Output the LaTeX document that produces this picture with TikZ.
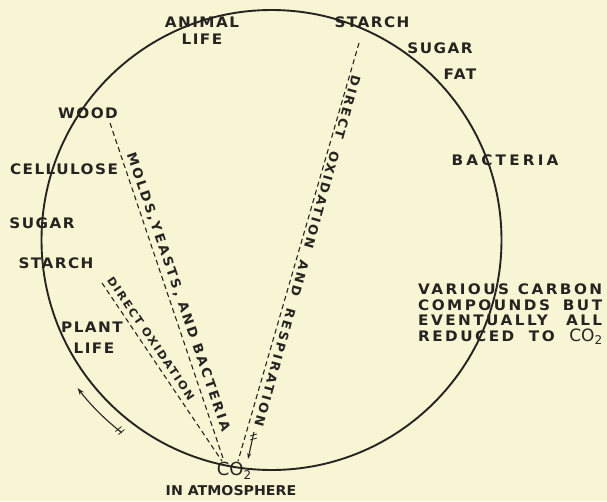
\documentclass[tikz,border=0pt]{standalone}
\usepackage{fontspec}
\setmainfont{DejaVu Sans}
\usetikzlibrary{arrows.meta}
\definecolor{bg}{RGB}{248,245,212}
\definecolor{ink}{RGB}{38,36,32}
\newcommand{\lbl}[2]{\fontsize{#1}{#1}\selectfont\bfseries\addfontfeatures{LetterSpace=#2,FakeStretch=1.05}}
\begin{document}
\begin{tikzpicture}[x=1pt,y=-1pt,
  lab/.style={font=\lbl{14.5}{10},text=ink,inner sep=0pt},
  along/.style={text=ink,inner sep=0pt},
  road/.style={draw=ink,line width=1.1pt,dash pattern=on 5pt off 3.5pt},
  ring/.style={draw=ink,line width=1.9pt},
  flow/.style={draw=ink,line width=1.1pt,-{Stealth[length=7pt,width=5pt]}},
  feather/.style={draw=ink,line width=0.8pt}]
\useasboundingbox (0,0) rectangle (607,501);
\fill[bg] (0,0) rectangle (607,501);
\coordinate (ctr) at (271.5,240);
\draw[ring] (ctr) circle (230);
% labels round the circle
\node[lab,align=center] (animal) at (202,31) {ANIMAL\\[2.5pt]LIFE};
\node[lab] (starchT) at (372,22) {STARCH};
\node[lab] (sugarT) at (440,48) {SUGAR};
\node[lab] (fat) at (460,74) {FAT};
\node[lab,font=\lbl{14.5}{22}] (bact) at (505,160) {BACTERIA};
\node[lab] (wood) at (88,113) {WOOD};
\node[lab] (cell) at (64,169) {CELLULOSE};
\node[lab] (sugarL) at (42,223) {SUGAR};
\node[lab] (starchL) at (56,263) {STARCH};
\node[lab,align=center] (plant) at (92,337.5) {PLANT\\[6.5pt]\hspace*{4pt}LIFE};
\node[lab,font=\lbl{13.5}{0}] (atm) at (231,491) {IN ATMOSPHERE};
\node[lab,font=\lbl{14.5}{17},anchor=north west,align=left] (various) at (418,283.7)
  {\makebox[184pt][s]{VARIOUS CARBON}\\[1pt]
   \makebox[184pt][s]{COMPOUNDS BUT}\\[1pt]
   \makebox[184pt][s]{EVENTUALLY ALL}\\[1.5pt]
   \makebox[184pt][s]{REDUCED TO {\normalfont\fontsize{17}{17}\selectfont CO\raisebox{-3pt}{\fontsize{12}{12}\selectfont 2}}}};
% CO2
\node[text=ink,inner sep=1pt,font=\normalfont\fontsize{18}{18}\selectfont] (co2) at (234,471)
  {CO\raisebox{-4pt}{\fontsize{12}{12}\selectfont 2}};
% dashed paths
\coordinate (a1) at (110,123);
\coordinate (b1) at (102,283);
\coordinate (c1) at (359,43);
\draw[road] (a1) -- ([xshift=-10pt]co2.north);
\draw[road] (b1) -- ([xshift=-12pt]co2.north);
\draw[road] (c1) -- ([xshift=4pt]co2.north);
\node[along,rotate=-71,font=\lbl{13}{17}] (molds) at (178,292) {MOLDS,YEASTS, AND BACTERIA};
\node[along,rotate=-55.9,font=\lbl{11}{15}] (dirox) at (151,338.5) {DIRECT OXIDATION};
\node[along,rotate=-105.6,font=\lbl{12.5}{19}] (dirresp) at (307.5,251)
  {DIRECT\hspace{6pt} OXIDATION\hspace{6pt} AND\hspace{6pt} RESPIRATION};
% small arrow to CO2
\coordinate (f1) at (254,432);
\coordinate (f2) at (248,459);
\draw[flow,-{Stealth[length=6pt,width=4pt]}] (f1) -- (f2);
\draw[feather] (250,436) -- (257,434) (250,440) -- (257,438);
% direction arrow along the circle
\draw[flow] (ctr) ++(127.8:244) arc[start angle=127.8,end angle=142.6,radius=244];
\draw[feather] (115.5,431.5) -- (121.5,426.5) (118.5,434.5) -- (124.5,429.5);
\end{tikzpicture}
\end{document}
